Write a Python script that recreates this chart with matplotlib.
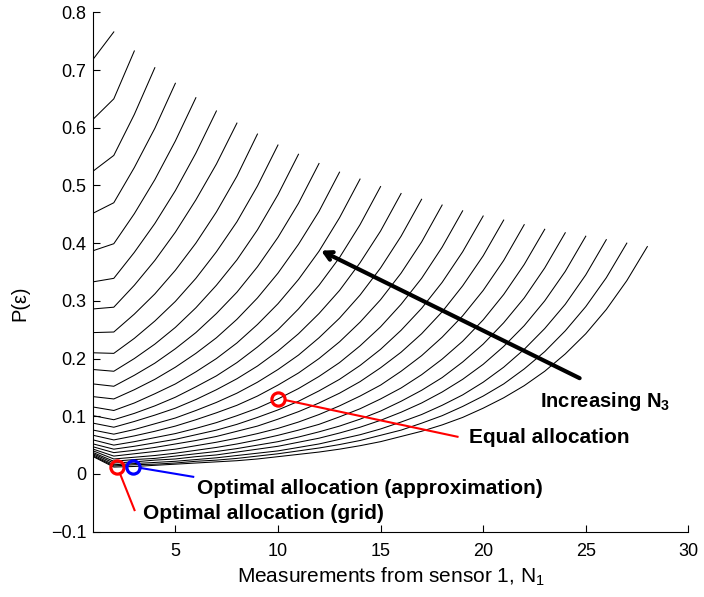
import matplotlib.pyplot as plt

plt.rcParams['font.family'] = ['Liberation Sans', 'DejaVu Sans']
plt.rcParams['mathtext.fontset'] = 'custom'
plt.rcParams['mathtext.rm'] = 'Liberation Sans'
plt.rcParams['mathtext.bf'] = 'Liberation Sans:bold'
plt.rcParams['mathtext.default'] = 'regular'

# P(error) vs N1, one row per N3 (N3 = 27 down to 1); row entry i is N1 = i + 1
p_err = [
    [.719, .766],
    [.615, .650, .733],
    [.525, .552, .623, .704],
    [.452, .470, .531, .599, .677],
    [.387, .399, .451, .510, .577, .652],
    [.333, .339, .384, .434, .491, .556, .629],
    [.286, .289, .327, .370, .419, .475, .537, .608],
    [.245, .246, .277, .312, .353, .400, .454, .516, .589],
    [.210, .209, .235, .265, .299, .339, .385, .437, .499, .570],
    [.181, .178, .200, .225, .254, .288, .327, .371, .423, .484, .554],
    [.156, .152, .171, .192, .217, .245, .278, .315, .359, .410, .469, .538],
    [.134, .130, .146, .164, .185, .209, .236, .268, .305, .348, .398, .455, .523],
    [.116, .110, .123, .139, .156, .177, .200, .227, .259, .295, .337, .386, .444, .511],
    [.101, .094, .105, .118, .133, .151, .170, .193, .220, .250, .286, .327, .375, .432, .498],
    [.088, .081, .091, .102, .114, .129, .146, .165, .187, .213, .243, .278, .318, .366, .421, .486],
    [.076, .069, .077, .087, .097, .110, .124, .140, .159, .181, .206, .236, .270, .310, .357, .412,
     .476],
    [.067, .059, .066, .074, .083, .094, .106, .119, .135, .154, .175, .200, .229, .263, .302, .348,
     .402, .466],
    [.059, .050, .056, .063, .070, .079, .089, .101, .114, .130, .148, .169, .193, .222, .255, .294,
     .339, .393, .456],
    [.052, .043, .048, .054, .060, .068, .076, .086, .098, .111, .126, .144, .164, .188, .216, .249,
     .287, .332, .385, .447],
    [.047, .037, .041, .046, .052, .058, .065, .074, .083, .095, .108, .123, .140, .160, .184, .211,
     .243, .281, .326, .378, .440],
    [.043, .031, .035, .039, .043, .049, .055, .062, .070, .079, .090, .103, .118, .135, .154, .178,
     .205, .237, .274, .318, .370, .432],
    [.040, .026, .029, .032, .036, .041, .046, .052, .059, .067, .076, .086, .099, .113, .130, .149,
     .172, .199, .230, .267, .311, .363, .424],
    [.037, .022, .025, .027, .031, .035, .039, .044, .050, .056, .064, .073, .083, .095, .109, .126,
     .145, .167, .194, .225, .262, .305, .357, .418],
    [.035, .019, .021, .024, .026, .030, .033, .038, .043, .048, .055, .062, .071, .081, .093, .107,
     .123, .142, .164, .190, .221, .257, .300, .351, .412],
    [.033, .016, .018, .020, .022, .025, .028, .032, .036, .040, .046, .052, .060, .068, .078, .090,
     .103, .119, .137, .159, .185, .216, .252, .294, .345, .406],
    [.031, .014, .016, .017, .019, .022, .024, .027, .031, .035, .040, .045, .051, .058, .067, .076,
     .088, .101, .117, .135, .156, .182, .212, .248, .290, .340, .400],
    [.030, .012, .013, .015, .017, .019, .021, .023, .026, .030, .034, .038, .043, .049, .056, .065,
     .074, .085, .098, .114, .132, .153, .178, .208, .243, .285, .335, .394],
]

# marked allocations (N1, P)
equal_alloc = (10.0, 0.130)
opt_grid = (2.17, 0.0125)
opt_approx = (2.93, 0.0125)

x_ticks = [5, 10, 15, 20, 25, 30]
y_ticks = [-0.1, 0, 0.1, 0.2, 0.3, 0.4, 0.5, 0.6, 0.7, 0.8]
y_tick_labels = ['\u22120.1', '0', '0.1', '0.2', '0.3', '0.4', '0.5', '0.6', '0.7', '0.8']

fig = plt.figure(figsize=(7.04, 5.97), dpi=100)
ax = fig.add_axes([0.1325, 0.1094, 0.8453, 0.8700])

for row in p_err:
    n1 = list(range(1, len(row) + 1))
    ax.plot(n1, row, color='k', linewidth=0.75)

# callout lines
ax.plot([10.43, 18.75], [0.1275, 0.0645], color='red', linewidth=1.5)
ax.plot([3.27, 5.87], [0.0106, -0.0049], color='blue', linewidth=1.5)
ax.plot([2.30, 3.01], [0.0008, -0.0626], color='red', linewidth=1.5)

ax.plot(*equal_alloc, 'o', mfc='none', mec='red', ms=9.5, mew=2.3)
ax.plot(*opt_grid, 'o', mfc='none', mec='red', ms=9.5, mew=2.3)
ax.plot(*opt_approx, 'o', mfc='none', mec='blue', ms=9.5, mew=2.3)

ax.annotate('', xy=(12.1, 0.387), xytext=(24.7, 0.166),
            arrowprops=dict(arrowstyle='->,head_length=0.55,head_width=0.3', lw=3,
                            color='k', shrinkA=0, shrinkB=0))

ax.text(22.77, 0.1263, r'Increasing N$_\mathbf{3}$', fontsize=14.5, fontweight='bold',
        va='center', ha='left')
ax.text(19.3, 0.0631, 'Equal allocation', fontsize=15, fontweight='bold', va='center', ha='left')
ax.text(6.05, -0.0253, 'Optimal allocation (approximation)', fontsize=15, fontweight='bold',
        va='center', ha='left')
ax.text(3.42, -0.0686, 'Optimal allocation (grid)', fontsize=15, fontweight='bold',
        va='center', ha='left')

ax.set_xlim(1, 30)
ax.set_ylim(-0.1, 0.8)
ax.set_xticks(x_ticks)
ax.set_yticks(y_ticks)
ax.set_yticklabels(y_tick_labels)
ax.tick_params(direction='in', length=5, width=0.8, labelsize=13)
ax.tick_params(axis='x', pad=8)
ax.tick_params(axis='y', pad=5)
for side in ['top', 'right']:
    ax.spines[side].set_visible(False)

ax.set_xlabel('Measurements from sensor 1, N$_1$', fontsize=15)
ax.set_ylabel('P(\u03b5)', fontsize=14.5)
ax.xaxis.set_label_coords(0.5, -0.066)
ax.yaxis.set_label_coords(-0.108, 0.44)

fig.savefig('out.png', dpi=100)
